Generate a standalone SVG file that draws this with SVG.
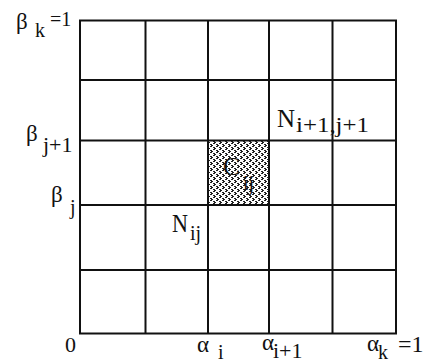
<svg xmlns="http://www.w3.org/2000/svg" width="432" height="364" viewBox="0 0 432 364">
<style>
.g{stroke:#111;stroke-width:2;fill:none}
text{font-family:"Liberation Serif","Times New Roman",serif;fill:#111;font-size:20px}
.gr{font-size:23px}
.sb{font-size:22px}
.big{font-size:25px}
.d{fill:#222}
</style>
<defs>
<pattern id="dots" width="6" height="6" patternUnits="userSpaceOnUse">
<rect width="6" height="6" fill="#fff"/>
<rect class="d" x="0" y="0" width="2" height="1"/>
<rect class="d" x="1" y="1" width="2" height="1"/>
<rect class="d" x="0" y="2" width="2" height="1"/>
<rect class="d" x="3" y="3" width="2" height="1"/>
<rect class="d" x="4" y="4" width="2" height="1"/>
<rect class="d" x="3" y="5" width="2" height="1"/>
</pattern>
</defs>
<g id="cell-cij">
<rect x="208" y="140.5" width="61" height="64.5" fill="url(#dots)"/>
</g>
<g id="grid" class="g">
<rect x="80" y="20.5" width="316" height="313"/>
<line x1="145.5" y1="20.5" x2="145.5" y2="333.5"/>
<line x1="208" y1="20.5" x2="208" y2="333.5"/>
<line x1="269" y1="20.5" x2="269" y2="333.5"/>
<line x1="332.5" y1="20.5" x2="332.5" y2="333.5"/>
<line x1="80" y1="80" x2="396" y2="80"/>
<line x1="80" y1="140.5" x2="396" y2="140.5"/>
<line x1="80" y1="205" x2="396" y2="205"/>
<line x1="80" y1="270" x2="396" y2="270"/>
</g>
<g id="labels">
<text class="gr" x="16" y="29">β</text><text x="35" y="37">k</text><text x="50" y="26">=1</text>
<text class="gr" x="26" y="141">β</text><text class="sb" x="43" y="152">j+1</text>
<text class="gr" x="51" y="202">β</text><text x="70" y="214">j</text>
<text class="sb" x="65" y="352">0</text>
<text class="gr" x="197" y="352">α</text><text x="218" y="359">i</text>
<text class="gr" x="262" y="350">α</text><text class="sb" x="273" y="358">i+1</text>
<text class="gr" x="367" y="351">α</text><text x="378" y="359">k</text><text x="398" y="352" style="font-size:24px">=1</text>
<text class="big" x="277" y="127">N</text><text class="sb" x="296" y="132" textLength="73" lengthAdjust="spacingAndGlyphs">i+1,j+1</text>
<text class="big" x="172" y="232" textLength="16" lengthAdjust="spacingAndGlyphs">N</text><text x="190" y="240">ij</text>
<text class="big" x="223" y="175" textLength="17" lengthAdjust="spacingAndGlyphs">C</text><text x="243" y="190">ij</text>
</g>
</svg>
